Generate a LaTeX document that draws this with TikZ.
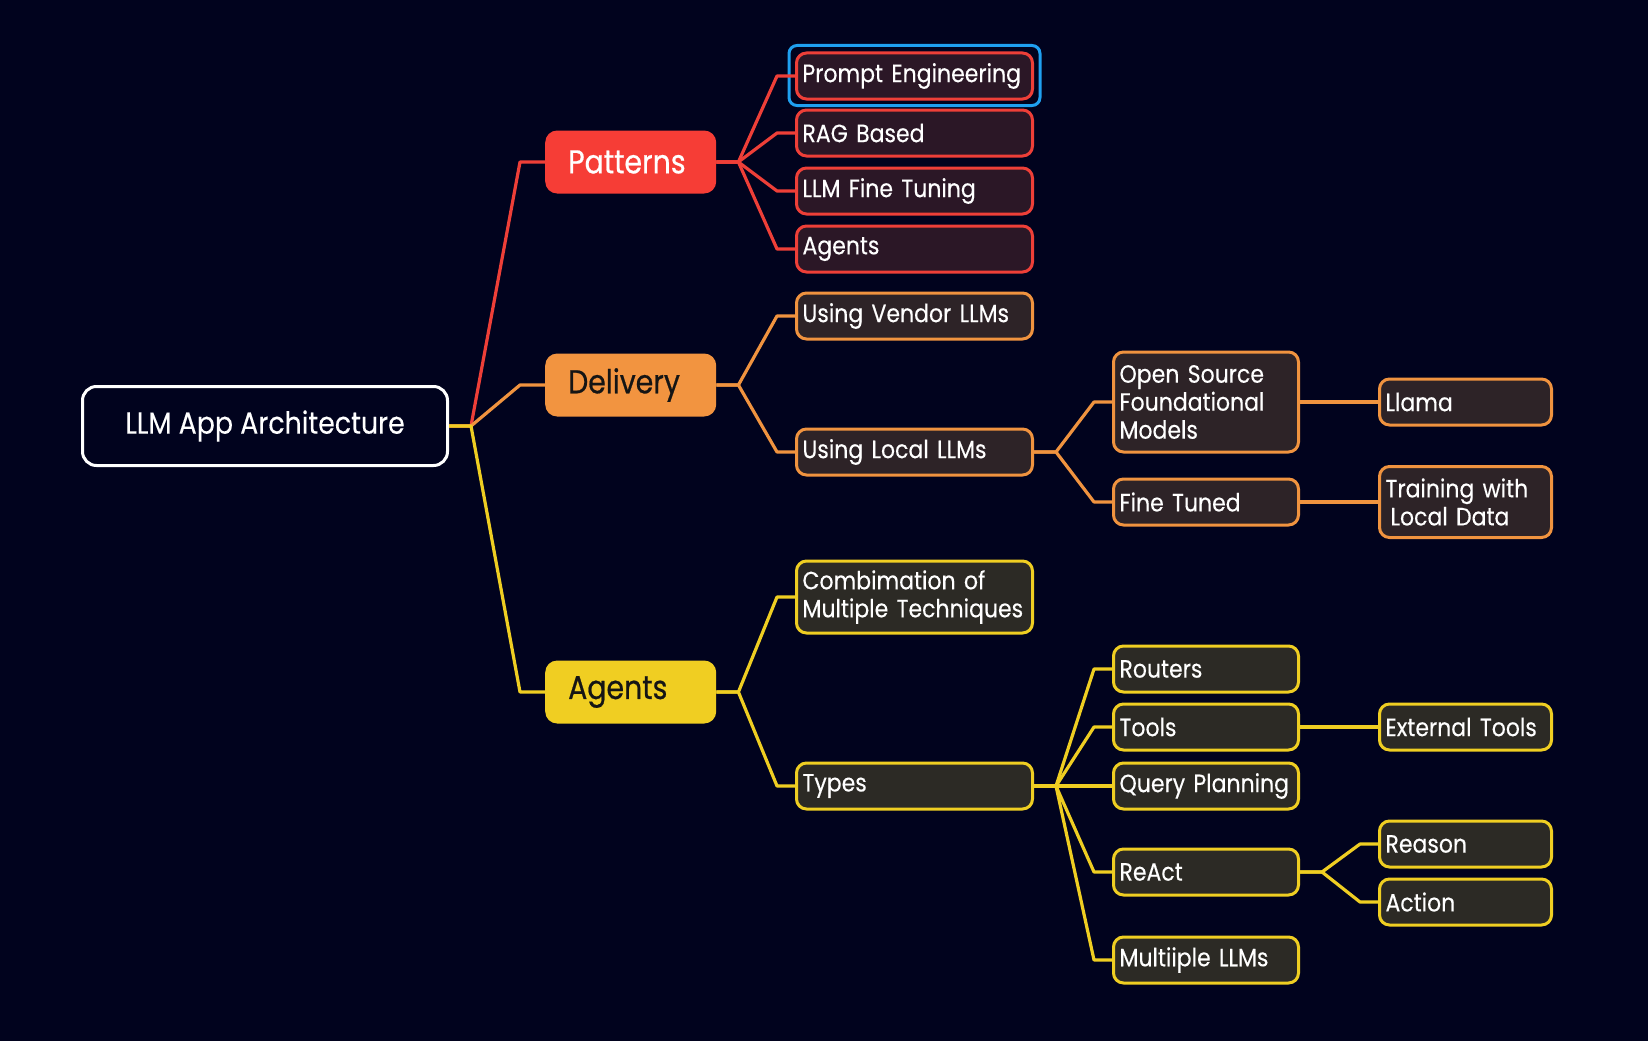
\documentclass[tikz,border=0pt]{standalone}
\usepackage{fontspec}
\setmainfont{Poppins}[FakeStretch=0.88,FakeBold=0.25]
\newfontfamily\headfont{Poppins}[FakeStretch=0.86,FakeBold=0.6]
\usetikzlibrary{calc}

\definecolor{bg}{HTML}{01031E}
\definecolor{cRed}{HTML}{EE3F38}
\definecolor{cRedMain}{HTML}{F63D36}
\definecolor{cRedFill}{HTML}{2B1726}
\definecolor{cOrg}{HTML}{F0933F}
\definecolor{cOrgMain}{HTML}{F29440}
\definecolor{cOrgFill}{HTML}{2D2327}
\definecolor{cYel}{HTML}{EFCE22}
\definecolor{cYelMain}{HTML}{F0CE22}
\definecolor{cYelFill}{HTML}{2C2A25}
\definecolor{cBlue}{HTML}{1FA0F0}
\definecolor{cInk}{HTML}{151515}

\newcommand\branch[4][18]{%
  \draw[#2,line width=3.2pt,line join=round]
    (#3.east) -- ++(22,0) -- ($(#4.west)+(-#1,0)$) -- (#4.west);}

\hyphenpenalty=10000
\exhyphenpenalty=10000

\begin{document}
\begin{tikzpicture}[x=1pt,y=-1pt,
  kid/.style={rounded corners=10pt,line width=3pt,anchor=west,
    inner xsep=6pt,inner ysep=0pt,align=left,text=white,
    minimum height=46pt,font=\fontsize{25}{28}\selectfont},
  lvA/.style={kid,text width=224pt},
  lvB/.style={kid,text width=173pt},
  lvC/.style={kid,text width=160pt},
  red/.style={draw=cRed,fill=cRedFill},
  org/.style={draw=cOrg,fill=cOrgFill},
  yel/.style={draw=cYel,fill=cYelFill},
  mainbox/.style={rounded corners=12pt,anchor=west,text width=125pt,
    align=left,minimum height=63pt,inner xsep=23pt,inner ysep=0pt,
    font=\headfont\fontsize{33}{36}\selectfont},
  rootbox/.style={rounded corners=14pt,draw=white,line width=3pt,
    anchor=west,minimum width=365pt,minimum height=79pt,inner sep=0pt,
    text=white,font=\fontsize{30.5}{33}\selectfont}
]
\fill[bg] (0,0) rectangle (1648,1041);

% root and main branches
\node[rootbox] (root) at (81,426) {LLM App Architecture};
\node[mainbox,fill=cRedMain,text=white] (pat) at (545,162) {Patterns};
\node[mainbox,fill=cOrgMain,text=cInk] (del) at (545,385) {Delivery};
\node[mainbox,fill=cYelMain,text=cInk] (agt) at (545,692) {Agents};

% second level
\node[lvA,red] (pe)   at (795,76)  {Prompt Engineering};
\node[lvA,red] (rag)  at (795,133) {RAG Based};
\node[lvA,red] (lft)  at (795,191) {LLM Fine Tuning};
\node[lvA,red] (agn)  at (795,249) {Agents};
\node[lvA,org] (uv)   at (795,316) {Using Vendor LLMs};
\node[lvA,org] (ul)   at (795,452) {Using Local LLMs};
\node[lvA,yel,minimum height=72pt] (comb) at (795,597) {Combimation of\\Multiple Techniques};
\node[lvA,yel] (typ)  at (795,786) {Types};

% third level
\node[lvB,org,minimum height=100pt] (osf) at (1112,402) {Open Source\\Foundational\\Models};
\node[lvB,org] (ft)    at (1112,502) {Fine Tuned};
\node[lvB,yel] (rout)  at (1112,669) {Routers};
\node[lvB,yel] (tool)  at (1112,727) {Tools};
\node[lvB,yel] (qp)    at (1112,786) {Query Planning};
\node[lvB,yel] (react) at (1112,872) {ReAct};
\node[lvB,yel] (mllm)  at (1112,960) {Multiiple LLMs};

% fourth level
\node[lvC,org] (llama)  at (1378,402) {Llama};
\node[lvC,org,minimum height=71pt] (train) at (1378,502) {Training with\\\hspace*{5pt}Local Data};
\node[lvC,yel] (ext)    at (1378,727) {External Tools};
\node[lvC,yel] (reason) at (1378,844) {Reason};
\node[lvC,yel] (action) at (1378,902) {Action};

% selection frame
\draw[cBlue,line width=3pt,rounded corners=8pt]
  ($(pe.north west)+(-6,-6)$) rectangle ($(pe.south east)+(6,5)$);

% connectors
\branch[25]{cRed}{root}{pat}
\branch[25]{cOrg}{root}{del}
\branch[25]{cYel}{root}{agt}

\branch{cRed}{pat}{pe}
\branch{cRed}{pat}{rag}
\branch{cRed}{pat}{lft}
\branch{cRed}{pat}{agn}

\branch{cOrg}{del}{uv}
\branch{cOrg}{del}{ul}
\branch{cOrg}{ul}{osf}
\branch{cOrg}{ul}{ft}
\branch{cOrg}{osf}{llama}
\branch{cOrg}{ft}{train}

\branch{cYel}{agt}{comb}
\branch{cYel}{agt}{typ}
\branch{cYel}{typ}{rout}
\branch{cYel}{typ}{tool}
\branch{cYel}{typ}{qp}
\branch{cYel}{typ}{react}
\branch{cYel}{typ}{mllm}
\branch{cYel}{tool}{ext}
\branch{cYel}{react}{reason}
\branch{cYel}{react}{action}
\end{tikzpicture}
\end{document}
